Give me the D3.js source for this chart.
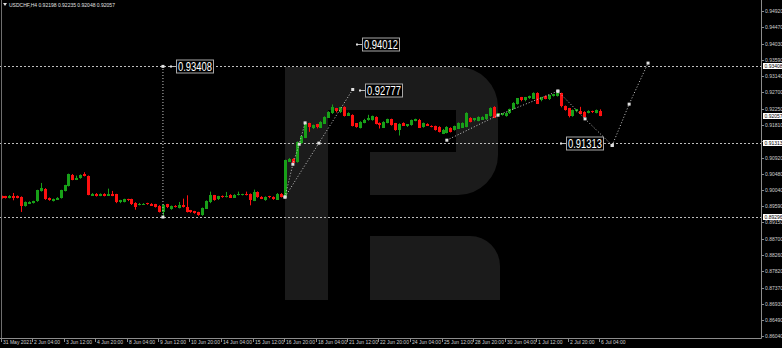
<!DOCTYPE html>
<html><head><meta charset="utf-8">
<script src="https://cdn.jsdelivr.net/npm/d3@7/dist/d3.min.js"></script>
<style>html,body{margin:0;padding:0;background:#000;overflow:hidden}</style>
</head><body>
<svg id="c" width="782" height="348"></svg>
<script>
const symbolTitle = "USDCHF,H4";
const headerValues = ["0.92198","0.92235","0.92048","0.92057"];

const opens = [.89862,.89862,.89816,.89880,.89871,.89844,.89598,.89661,.89680,.89725,
.90008,.90062,.89816,.89734,.89771,.89816,.90008,.90144,.90454,.90317,
.90354,.90463,.90418,.89889,.89935,.89880,.89935,.89880,.89926,.89917,
.89689,.89707,.89780,.89780,.89689,.89634,.89643,.89671,.89661,.89643,
.89607,.89434,.89643,.89507,.89607,.89543,.89625,.89570,.89479,.89452,
.89425,.89343,.89525,.89689,.89889,.89771,.89871,.89844,.89907,.89834,
.89898,.89898,.89917,.89926,.89743,.89980,.89853,.89753,.89862,.89844,
.89780,.89936,.89826,.90819,.90892,.90801,.91302,.91466,.91849,.91712,
.91822,.91740,.91849,.92013,.92122,.92259,.92150,.92304,.92068,.92086,
.91849,.91730,.91867,.91940,.91940,.92031,.91867,.91740,.91867,.91967,
.91849,.91685,.91867,.91767,.91803,.91922,.91958,.91749,.91840,.91785,
.91776,.91758,.91576,.91594,.91730,.91667,.91712,.91740,.91758,.92004,
.91922,.91922,.91958,.91958,.92049,.92304,.92077,.92077,.92049,.92122,
.92241,.92377,.92559,.92468,.92532,.92532,.92687,.92468,.92596,.92505,
.92596,.92596,.92669,.92323,.92259,.92049,.92168,.92195,.92168,.92140,
.92186,.92140,.92198];
const highs = [.89880,.89875,.89895,.89953,.89885,.89860,.89720,.89725,.89740,.90040,
.90226,.90085,.89830,.89800,.89840,.90040,.90175,.90480,.90470,.90427,
.90460,.90518,.90430,.89950,.89950,.89940,.89945,.90071,.90008,.89930,
.89765,.89795,.89795,.89795,.89700,.89680,.89675,.89685,.89675,.89655,
.89620,.89650,.89655,.89610,.89620,.89707,.89798,.89889,.89490,.89465,
.89440,.89555,.89750,.89989,.89900,.89875,.89885,.89980,.89920,.89920,
.89989,.89930,.89989,.89940,.90044,.89995,.89865,.89860,.89875,.89860,
.89950,.89950,.90860,.90905,.90905,.91360,.91520,.91880,.91870,.91820,
.91840,.91910,.92045,.92185,.92368,.92275,.92300,.92320,.92155,.92100,
.91860,.91910,.91975,.92086,.92065,.92045,.91880,.91910,.91980,.91980,
.91865,.91855,.91880,.91835,.91955,.91980,.91975,.91875,.91855,.91800,
.91790,.91775,.91700,.91775,.91745,.91790,.91880,.91880,.92155,.92020,
.92000,.92045,.92045,.92110,.92290,.92320,.92135,.92135,.92155,.92255,
.92430,.92545,.92575,.92575,.92610,.92700,.92700,.92575,.92610,.92640,
.92655,.92732,.92690,.92340,.92275,.92230,.92245,.92304,.92185,.92210,
.92200,.92230,.92235];
const lows = [.89798,.89800,.89805,.89753,.89805,.89434,.89580,.89650,.89665,.89710,
.89990,.89765,.89740,.89720,.89760,.89800,.89995,.90130,.90300,.90305,
.90340,.90405,.89890,.89870,.89855,.89865,.89860,.89870,.89865,.89675,
.89675,.89695,.89730,.89625,.89497,.89615,.89630,.89630,.89600,.89555,
.89420,.89296,.89540,.89495,.89555,.89530,.89555,.89420,.89410,.89385,
.89330,.89330,.89515,.89675,.89740,.89760,.89820,.89830,.89820,.89820,
.89885,.89885,.89885,.89616,.89730,.89820,.89785,.89740,.89810,.89765,
.89765,.89830,.89810,.90800,.90737,.90780,.91290,.91450,.91621,.91700,
.91715,.91725,.91835,.92000,.92110,.92150,.92135,.92040,.92055,.91770,
.91735,.91715,.91855,.91925,.91925,.91825,.91712,.91725,.91855,.91790,
.91650,.91521,.91780,.91755,.91790,.91910,.91725,.91735,.91780,.91745,
.91655,.91605,.91560,.91580,.91605,.91655,.91700,.91725,.91745,.91880,
.91910,.91910,.91945,.91945,.92035,.92000,.92065,.92065,.92035,.92110,
.92230,.92365,.92455,.92455,.92520,.92520,.92380,.92455,.92510,.92490,
.92585,.92585,.92290,.92200,.92015,.92035,.92155,.92110,.92015,.92125,
.92135,.92125,.92048];
const closes = [.89816,.89816,.89880,.89834,.89816,.89589,.89707,.89707,.89725,.90026,
.90080,.89780,.89753,.89789,.89825,.90026,.90162,.90463,.90317,.90372,
.90445,.90418,.89907,.89935,.89871,.89926,.89871,.89935,.89880,.89689,
.89753,.89780,.89743,.89643,.89589,.89661,.89661,.89643,.89616,.89570,
.89434,.89634,.89552,.89598,.89570,.89634,.89570,.89434,.89425,.89397,
.89343,.89543,.89734,.89889,.89753,.89862,.89834,.89880,.89834,.89907,
.89926,.89917,.89898,.89753,.89980,.89834,.89798,.89844,.89825,.89780,
.89935,.89845,.90847,.90892,.90783,.91348,.91503,.91867,.91740,.91803,
.91730,.91895,.92031,.92168,.92286,.92168,.92286,.92058,.92140,.91785,
.91749,.91895,.91958,.91986,.92049,.91840,.91803,.91895,.91967,.91803,
.91667,.91840,.91794,.91822,.91940,.91967,.91740,.91858,.91794,.91758,
.91667,.91621,.91685,.91758,.91621,.91776,.91867,.91867,.92140,.91895,
.91986,.92031,.92031,.92095,.92277,.92013,.92122,.92122,.92140,.92241,
.92414,.92532,.92468,.92559,.92596,.92687,.92396,.92559,.92523,.92623,
.92641,.92687,.92304,.92213,.92031,.92213,.92232,.92122,.92031,.92195,
.92150,.92213,.92057];

const timeLabels = ["31 May 2021","2 Jun 04:00","3 Jun 12:00","4 Jun 20:00","8 Jun 04:00","9 Jun 12:00",
"10 Jun 20:00","14 Jun 04:00","15 Jun 12:00","16 Jun 20:00","18 Jun 04:00","21 Jun 12:00","22 Jun 20:00",
"24 Jun 04:00","25 Jun 12:00","28 Jun 20:00","30 Jun 04:00","1 Jul 12:00","2 Jul 20:00","6 Jul 04:00"];
const timeLabelBars = [0,8,16,24,32,40,48,56,64,72,80,88,96,104,112,120,128,136,144,152];

const priceTicks = [0.94920,0.94470,0.94030,0.93590,0.93140,0.92700,0.92250,0.91810,0.91360,0.90920,
0.90480,0.90040,0.89590,0.89150,0.88700,0.88260,0.87820,0.87370,0.86930,0.86490,0.86040];
const levelLines = [0.93408,0.91313,0.89296];
const axisMarks = [0.93408,0.92057,0.91313,0.89296];

const calloutValues = [0.94012,0.93408,0.92777,0.91313];
const calloutBars = [91.6,44.3,92.3,143.4];

const waveA = [[72,0.89842],[74,0.90737],[75.6,0.91283],[77.1,0.91866]];
const waveB = [[72,0.89842],[80.6,0.91313],[89.2,0.92777]];
const waveC = [[113.1,0.91393],[126.1,0.92076],[141.3,0.92732]];
const waveD = [[141.3,0.92732],[148.2,0.91975],[155.1,0.91250]];
const waveE = [[155.1,0.91250],[159.4,0.92377],[164.2,0.93498]];
const verticalSpan = [[41,0.89296],[41,0.93408]];

const W = 782, H = 348;
const plotRight = 761, plotBottom = 338;
const svg = d3.select("#c");
svg.append("rect").attr("width",W).attr("height",H).attr("fill","#000");

const x = d3.scaleLinear().domain([0,152]).range([1.5,600]);
const y = d3.scaleLinear().domain([0.86040,0.94920]).range([336.3,11]);

// watermark logo
const logo = svg.append("g").attr("fill","#1b1b1b");
logo.append("path").attr("fill-rule","evenodd").attr("d",
 "M285,67 H458 A40,40 0 0 1 498,107 V155 A40,40 0 0 1 458,195 H370 V152 H456 V110 H328 V300 H285 Z");
logo.append("path").attr("d","M370,236 H470 A30,30 0 0 1 500,266 V300 H370 Z");

// level lines
svg.append("g").selectAll("line").data(levelLines).join("line")
  .attr("x1",0).attr("x2",plotRight).attr("y1",d=>Math.round(y(d))+0.5).attr("y2",d=>Math.round(y(d))+0.5)
  .attr("stroke","#bdbdbd").attr("stroke-dasharray","2,2");

// candles
const data = opens.map((o,i)=>({i,o,h:highs[i],l:lows[i],c:closes[i]}));
const up = "#18a018", dn = "#ff1010";
const cg = svg.append("g");
cg.selectAll("line").data(data).join("line")
  .attr("x1",d=>Math.round(x(d.i))+0.5).attr("x2",d=>Math.round(x(d.i))+0.5)
  .attr("y1",d=>y(d.h)).attr("y2",d=>y(d.l))
  .attr("stroke",d=>d.c>=d.o?up:dn);
cg.selectAll("rect").data(data).join("rect")
  .attr("x",d=>Math.round(x(d.i))-1).attr("width",3)
  .attr("y",d=>Math.round(y(Math.max(d.o,d.c))))
  .attr("height",d=>Math.max(1,Math.round(Math.abs(y(d.o)-y(d.c)))))
  .attr("fill",d=>d.c>=d.o?up:dn);

// projection lines
const line = d3.line().x(d=>x(d[0])).y(d=>y(d[1]));
const waves = [waveA,waveB,waveC,waveD,waveE,verticalSpan];
const pg = svg.append("g");
pg.selectAll("path").data(waves).join("path").attr("d",line)
  .attr("fill","none").attr("stroke","#c8c8c8").attr("stroke-dasharray","1,2");
const pts = waves.flat();
pg.selectAll("rect").data(pts).join("rect")
  .attr("x",d=>x(d[0])-1.5).attr("y",d=>y(d[1])-1.5).attr("width",3).attr("height",3)
  .attr("fill","#e0e0e0");

// callouts
const co = svg.append("g").selectAll("g").data(calloutValues).join("g")
  .attr("transform",(d,k)=>`translate(${Math.round(x(calloutBars[k]))},${Math.round(y(d))})`);
co.append("line").attr("x1",-6).attr("x2",0).attr("y1",0.5).attr("y2",0.5).attr("stroke","#bbb");
co.append("rect").attr("x",-6).attr("y",-0.5).attr("width",2).attr("height",2).attr("fill","#ddd");
co.append("rect").attr("x",0.5).attr("y",-6).attr("width",37).attr("height",13)
  .attr("fill","#000").attr("stroke","#a8a8a8");
co.append("text").attr("x",2).attr("y",5).attr("font-family","Liberation Sans, Arial, sans-serif")
  .attr("font-size",13).attr("fill","#fff").attr("textLength",34).attr("lengthAdjust","spacingAndGlyphs")
  .text(d=>d.toFixed(5));

// axes frame
svg.append("line").attr("x1",plotRight+0.5).attr("x2",plotRight+0.5).attr("y1",0).attr("y2",plotBottom+0.5).attr("stroke","#8c8c8c");
svg.append("line").attr("x1",0).attr("x2",plotRight+0.5).attr("y1",plotBottom+0.5).attr("y2",plotBottom+0.5).attr("stroke","#8c8c8c");
svg.append("line").attr("x1",1.5).attr("x2",1.5).attr("y1",0).attr("y2",plotBottom).attr("stroke","#6e6e6e");

const font = "Liberation Sans, Arial, sans-serif";
// right axis (labels hidden where a marked price label covers them)
const visibleTicks = priceTicks.filter(t=>axisMarks.every(m=>Math.abs(y(t)-y(m))>4));
const ra = svg.append("g");
ra.selectAll("line").data(priceTicks).join("line")
  .attr("x1",plotRight).attr("x2",plotRight+3).attr("y1",d=>Math.round(y(d))+0.5).attr("y2",d=>Math.round(y(d))+0.5)
  .attr("stroke","#8c8c8c");
ra.selectAll("text").data(visibleTicks).join("text")
  .attr("x",765).attr("y",d=>Math.round(y(d))+2).attr("font-family",font).attr("font-size",5)
  .attr("fill","#cfcfcf").text(d=>d.toFixed(5));
const am = svg.append("g").selectAll("g").data(axisMarks).join("g")
  .attr("transform",d=>`translate(763,${Math.round(y(d))})`);
am.append("rect").attr("x",0).attr("y",-3).attr("width",19).attr("height",6).attr("fill","#fff");
am.append("text").attr("x",1.5).attr("y",2).attr("font-family",font).attr("font-size",5).attr("fill","#000")
  .text(d=>d.toFixed(5));

// bottom axis
const ba = svg.append("g");
ba.selectAll("line").data(timeLabelBars).join("line")
  .attr("x1",d=>Math.round(x(d))-0.5).attr("x2",d=>Math.round(x(d))-0.5).attr("y1",plotBottom).attr("y2",plotBottom+4)
  .attr("stroke","#8c8c8c");
ba.selectAll("text").data(timeLabels).join("text")
  .attr("x",(d,k)=>Math.round(x(timeLabelBars[k]))+1).attr("y",344).attr("font-family",font).attr("font-size",5)
  .attr("fill","#cfcfcf").text(d=>d);

// header
svg.append("path").attr("d","M3,3 L7,3 L5,6 Z").attr("fill","#ddd");
svg.append("text").attr("x",9).attr("y",6.5).attr("font-family",font).attr("font-size",5).attr("fill","#e0e0e0")
  .text(symbolTitle+"  "+headerValues.join(" "));
</script>
</body></html>
